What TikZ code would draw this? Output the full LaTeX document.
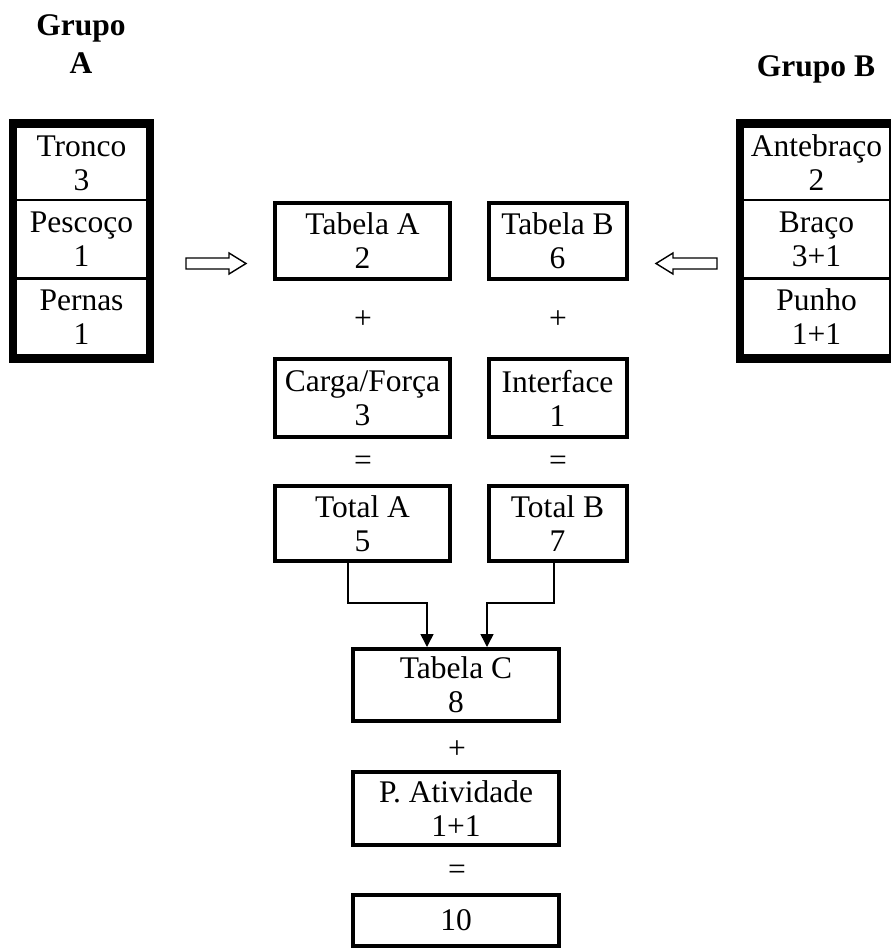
\documentclass[tikz,border=0pt]{standalone}
\usepackage{fontspec}
\setmainfont{Liberation Serif}
\usetikzlibrary{arrows.meta}

\tikzset{
  txt/.style={font=\fontsize{31.5}{34}\selectfont, align=center, inner sep=0pt},
  cell/.style={txt, draw, line width=2pt, minimum width=#1},
  frame/.style={draw, line width=8pt, inner sep=0pt},
  calcbox/.style={txt, draw, line width=4pt, minimum width=175pt},
  sign/.style={font=\fontsize{31.5}{35}\selectfont, inner sep=0pt},
  title/.style={font=\bfseries\fontsize{31.5}{38}\selectfont, align=center, inner sep=0pt},
  hollow/.style={draw, line width=1.4pt, line join=miter, fill=white},
  conn/.style={draw, line width=1.5pt, -{Triangle[length=13pt,width=13pt]}}
}

\begin{document}
\begin{tikzpicture}[x=1pt, y=-1pt]
\useasboundingbox (0,0) rectangle (891,950);

% group titles
\node[title] (titA) at (81,44) {Grupo\\A};
\node[title, anchor=base] (titB) at (816,76) {Grupo B};

% group A: body segments
\node[cell=133pt, minimum height=73pt] (tronco)  at (81.5,163) {Tronco\\3};
\node[cell=133pt, minimum height=78pt] (pescoco) at (81.5,239)   {Pescoço\\1};
\node[cell=133pt, minimum height=76pt] (pernas)  at (81.5,317)   {Pernas\\1};
\node[frame, minimum width=137pt, minimum height=236pt] (grpA) at (81.5,241) {};

% group B: arm segments
\node[cell=149pt, minimum height=73pt] (antebraco) at (816.5,163) {Antebraço\\2};
\node[cell=149pt, minimum height=78pt] (braco)     at (816.5,239)   {Braço\\3+1};
\node[cell=149pt, minimum height=76pt] (punho)     at (816.5,317)   {Punho\\1+1};
\node[frame, minimum width=153pt, minimum height=236pt] (grpB) at (816.5,241) {};

% hollow arrows towards the tables
\draw[hollow] (186,258) -- (229,258) -- (229,253) -- (246,263.5) -- (229,274)
  -- (229,269) -- (186,269) -- cycle;
\draw[hollow] (717,258) -- (673,258) -- (673,253) -- (656,263.5) -- (673,274)
  -- (673,269) -- (717,269) -- cycle;

% column A
\node[calcbox, minimum height=76pt] (tabA)  at (362.5,241)   {Tabela A\\2};
\node[sign] (plusA) at (363,320) {+};
\node[calcbox, minimum height=78pt] (carga) at (362.5,398)   {Carga/Força\\3};
\node[sign] (eqA) at (363,463) {=};
\node[calcbox, minimum height=75pt] (totA)  at (362.5,523.5) {Total A\\5};

% column B
\node[calcbox, minimum width=138pt, minimum height=76pt] (tabB)  at (557.5,241)   {Tabela B\\6};
\node[sign] (plusB) at (558,320) {+};
\node[calcbox, minimum width=138pt, minimum height=78pt] (inter) at (557.5,398)   {Interface\\1};
\node[sign] (eqB) at (558,463) {=};
\node[calcbox, minimum width=138pt, minimum height=75pt] (totB)  at (557.5,523.5) {Total B\\7};

% final score
\node[calcbox, minimum width=206pt, minimum height=72pt] (tabC) at (456,685)   {Tabela C\\8};
\node[sign] (plusC) at (457,750) {+};
\node[calcbox, minimum width=206pt, minimum height=73pt] (ativ) at (456,808.5) {P. Atividade\\1+1};
\node[sign] (eqC) at (457,872) {=};
\node[calcbox, minimum width=206pt, minimum height=51pt] (res)  at (456,920.5) {10};

% totals feeding table C
\coordinate (jA) at (427,603);
\coordinate (jB) at (487,603);
\draw[conn] ([xshift=-14.5pt]totA.south) |- (jA) -- (jA |- tabC.north);
\draw[conn] ([xshift=-3.5pt]totB.south) |- (jB) -- (jB |- tabC.north);
\end{tikzpicture}
\end{document}
